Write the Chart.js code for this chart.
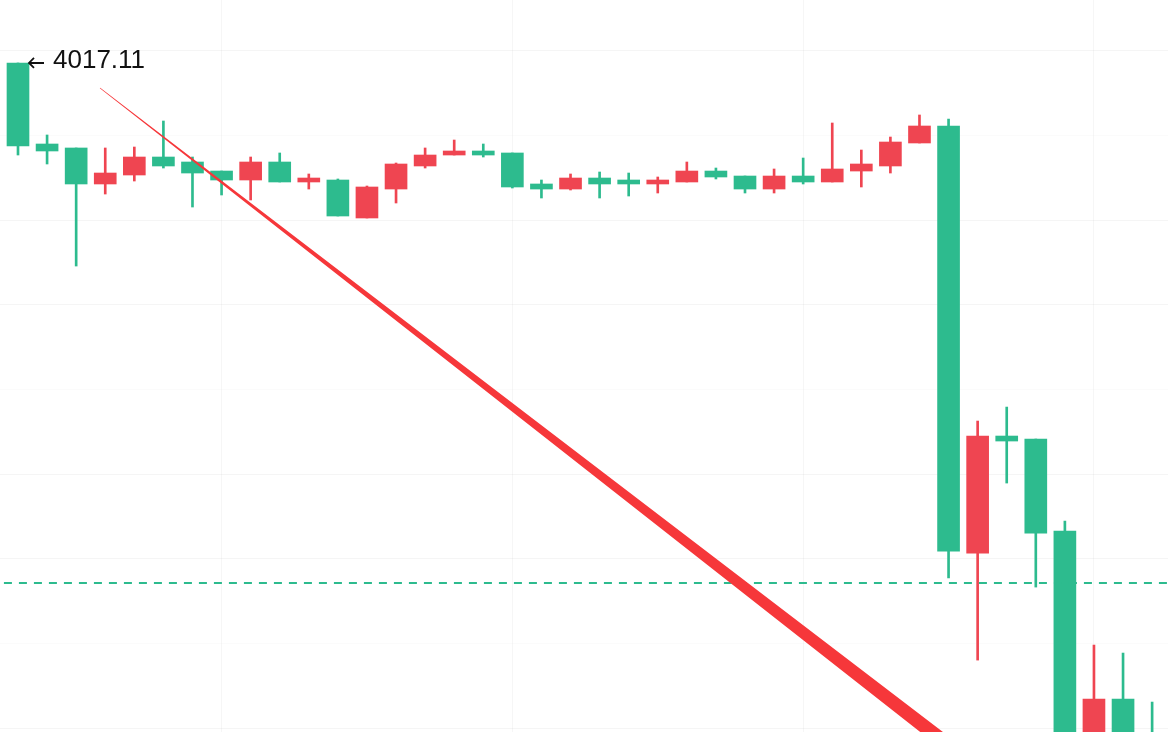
<!DOCTYPE html>
<html>
<head>
<meta charset="utf-8">
<title>Candles</title>
<script src="https://cdn.jsdelivr.net/npm/chart.js@4.4.1/dist/chart.umd.min.js"></script>
<style>
  html, body { margin: 0; padding: 0; background: #ffffff; }
  #wrap { width: 1168px; height: 732px; }
</style>
</head>
<body>
<div id="wrap"><canvas id="chart" width="1168" height="732"></canvas></div>
<script>
// candle values, one entry per bar (red = close above open, green = close below open)
var opens  = [4017.11, 3997.98, 3997.04, 3988.54, 3990.66, 3994.91, 3993.73, 3991.60, 3989.48, 3993.73,
              3989.01, 3989.48, 3980.51, 3987.35, 3992.79, 3995.38, 3996.33, 3995.86, 3988.54, 3987.35,
              3989.95, 3989.48, 3988.54, 3989.01, 3991.60, 3990.42, 3987.35, 3990.42, 3989.01, 3991.60,
              3992.79, 3998.22, 4002.23, 3901.40, 3929.03, 3928.32, 3906.60, 3850.16, 3866.93, 3857.24];
var highs  = [4017.11, 4000.11, 3997.04, 3997.04, 3997.27, 4003.41, 3994.91, 3991.60, 3994.91, 3995.86,
              3990.90, 3989.72, 3988.06, 3993.49, 3997.04, 3998.92, 3997.98, 3995.86, 3989.48, 3990.90,
              3991.37, 3991.13, 3990.19, 3993.73, 3992.31, 3990.42, 3992.08, 3994.67, 4002.94, 3996.56,
              3999.63, 4004.83, 4003.88, 3932.57, 3935.87, 3928.32, 3908.96, 3879.68, 3877.79, 3866.22];
var lows   = [3995.38, 3993.26, 3969.17, 3986.17, 3989.24, 3992.31, 3983.10, 3985.94, 3984.76, 3989.01,
              3987.35, 3980.98, 3980.51, 3984.05, 3992.31, 3995.38, 3994.91, 3987.59, 3985.23, 3987.12,
              3985.23, 3985.70, 3986.41, 3989.01, 3989.72, 3986.41, 3986.41, 3988.54, 3989.01, 3987.83,
              3991.13, 3998.22, 3895.50, 3876.13, 3917.93, 3893.37, 3847.80, 3848.00, 3850.00, 3840.00];
var closes = [3997.51, 3996.33, 3988.54, 3991.13, 3994.91, 3992.79, 3991.13, 3989.48, 3993.73, 3989.01,
              3989.95, 3980.98, 3987.83, 3993.26, 3995.38, 3996.33, 3995.38, 3987.83, 3987.35, 3989.95,
              3988.54, 3988.54, 3989.48, 3991.60, 3990.19, 3987.35, 3990.42, 3989.01, 3992.08, 3993.26,
              3998.45, 4002.23, 3901.87, 3929.03, 3927.85, 3906.12, 3852.52, 3866.93, 3854.88, 3845.00];

var priceTicks = [4020, 4000, 3980, 3960, 3940, 3920, 3900, 3880, 3860];
var fadedTicks = [4000, 3940, 3880];
var timeTicks = [7, 17, 27, 37];

var markPrice = 4017.11;
var dashPrice = 3894.32;
var trendStart = { x: 2.82, y: 4011.20 };
var trendEnd = { x: 32.4, y: 3853.9 };

var RED = '#ef4551';
var GREEN = '#2dbb8e';

var bodies = [], wicks = [], colors = [];
opens.forEach(function(o, i) {
    bodies.push({ x: i, y: [o, closes[i]] });
    wicks.push({ x: i, y: [lows[i], highs[i]] });
    colors.push(closes[i] > o ? RED : GREEN);
});

var overlay = {
    id: 'overlay',
    afterDatasetsDraw: function(chart) {
        var ctx = chart.ctx;
        var xs = chart.scales.x, ys = chart.scales.y, area = chart.chartArea;

        // tapered trend line, widening towards the end
        var x0 = xs.getPixelForValue(trendStart.x), y0 = ys.getPixelForValue(trendStart.y);
        var x1 = xs.getPixelForValue(trendEnd.x), y1 = ys.getPixelForValue(trendEnd.y);
        var dx = x1 - x0, dy = y1 - y0;
        var len = Math.sqrt(dx * dx + dy * dy);
        var nx = -dy / len, ny = dx / len;
        var stops = [[0, 0.3], [0.5, 3.6], [1, 7.2]];
        ctx.save();
        ctx.beginPath();
        ctx.rect(area.left, area.top, area.right - area.left, area.bottom - area.top);
        ctx.clip();
        ctx.beginPath();
        stops.forEach(function(s, i) {
            var px = x0 + dx * s[0] + nx * s[1], py = y0 + dy * s[0] + ny * s[1];
            if (i === 0) ctx.moveTo(px, py); else ctx.lineTo(px, py);
        });
        for (var j = stops.length - 1; j >= 0; j--) {
            var s = stops[j];
            ctx.lineTo(x0 + dx * s[0] - nx * s[1], y0 + dy * s[0] - ny * s[1]);
        }
        ctx.closePath();
        ctx.fillStyle = '#f6373a';
        ctx.fill();
        ctx.restore();

        // high marker: arrow + price
        var ax = xs.getPixelForValue(0) + 11;
        var ay = ys.getPixelForValue(markPrice);
        ctx.save();
        ctx.strokeStyle = '#111111';
        ctx.lineWidth = 1.8;
        ctx.beginPath();
        ctx.moveTo(ax, ay);
        ctx.lineTo(ax + 15, ay);
        ctx.moveTo(ax + 5, ay - 5);
        ctx.lineTo(ax, ay);
        ctx.lineTo(ax + 5, ay + 5);
        ctx.stroke();
        ctx.fillStyle = '#111111';
        ctx.font = '26px "Liberation Sans", Arial, sans-serif';
        ctx.textBaseline = 'middle';
        ctx.fillText(markPrice.toFixed(2), ax + 24, ay - 2);
        ctx.restore();
    }
};

new Chart(document.getElementById('chart'), {
    type: 'bar',
    data: {
        datasets: [{
            data: wicks,
            backgroundColor: colors,
            barThickness: 2,
            grouped: false,
            order: 2
        }, {
            data: bodies,
            backgroundColor: colors,
            barThickness: 22,
            grouped: false,
            order: 1
        }, {
            type: 'line',
            data: [{ x: -1, y: dashPrice }, { x: 41, y: dashPrice }],
            borderColor: GREEN,
            borderWidth: 2,
            borderDash: [8, 7],
            pointRadius: 0,
            order: 0
        }]
    },
    options: {
        responsive: false,
        animation: false,
        devicePixelRatio: 1,
        layout: { padding: 0 },
        plugins: {
            legend: { display: false },
            tooltip: { enabled: false }
        },
        scales: {
            x: {
                type: 'linear',
                min: -0.619,
                max: 39.546,
                offset: false,
                afterBuildTicks: function(axis) {
                    axis.ticks = timeTicks.map(function(v) { return { value: v }; });
                },
                ticks: { display: false },
                border: { display: false },
                grid: { offset: false, color: 'rgba(0,0,0,0.035)', drawTicks: false, tickLength: 0 }
            },
            y: {
                min: 3859.15,
                max: 4031.98,
                afterBuildTicks: function(axis) {
                    axis.ticks = priceTicks.map(function(v) { return { value: v }; });
                },
                ticks: { display: false },
                border: { display: false },
                grid: {
                    drawTicks: false,
                    tickLength: 0,
                    color: function(ctx) {
                        var v = ctx.tick ? ctx.tick.value : null;
                        return fadedTicks.indexOf(v) >= 0 ? 'rgba(0,0,0,0.015)' : 'rgba(0,0,0,0.04)';
                    }
                }
            }
        }
    },
    plugins: [overlay]
});
</script>
</body>
</html>
